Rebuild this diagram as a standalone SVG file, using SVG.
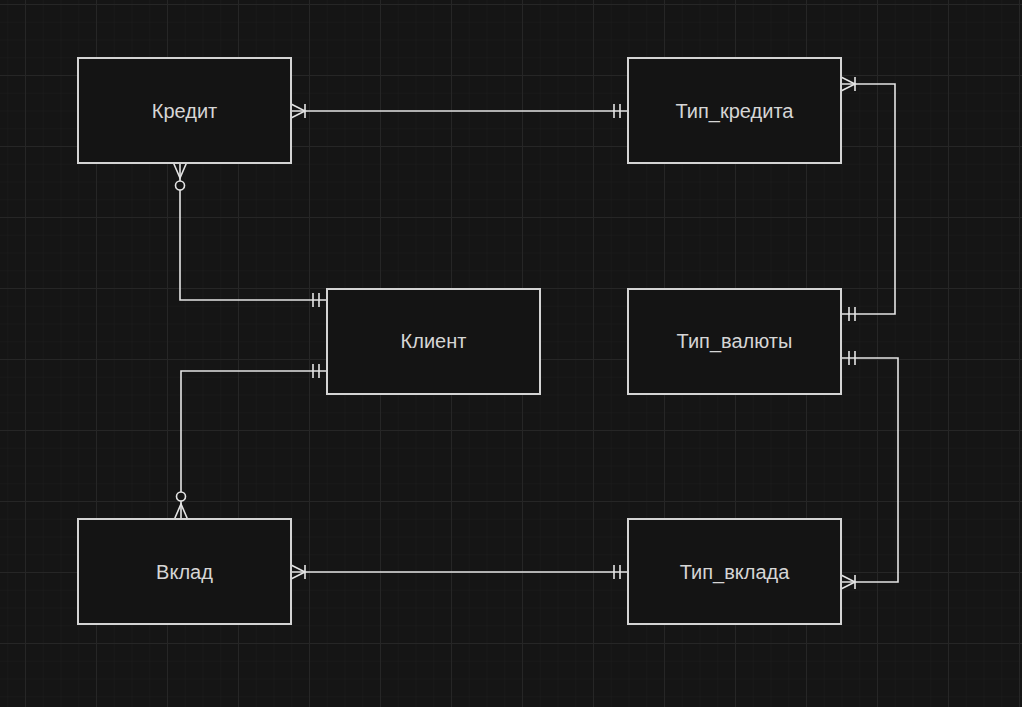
<svg xmlns="http://www.w3.org/2000/svg" width="1022" height="707" viewBox="0 0 1022 707">
<style>
.box{fill:#141414;stroke:#d4d4d4;stroke-width:2}
.lbl{font-family:"Liberation Sans",Arial,sans-serif;font-size:20px;fill:#d6d6d6;text-anchor:middle;dominant-baseline:central}
.con{fill:none;stroke:#e4e4e4;stroke-width:1.6}
.mk{fill:none;stroke:#e4e4e4;stroke-width:1.6}
</style>
<defs>
<pattern id="minor" width="17.75" height="17.75" patternUnits="userSpaceOnUse" x="25" y="4">
<path d="M0,0 L17.75,0 M0,0 L0,17.75" fill="none" stroke="#1d1d1d" stroke-width="1"/>
</pattern>
<pattern id="major" width="71" height="71" patternUnits="userSpaceOnUse" x="25" y="4">
<path d="M0,0.5 L71,0.5 M0.5,0 L0.5,71" fill="none" stroke="#262626" stroke-width="1"/>
</pattern>
<marker id="mandOne" markerUnits="userSpaceOnUse" viewBox="-30 -12 32 24" refX="0" refY="0" markerWidth="32" markerHeight="24" orient="auto-start-reverse" overflow="visible">
<path class="mk" d="M-8,-7 L-8,7 M-14,-7 L-14,7"/>
</marker>
<marker id="oneMany" markerUnits="userSpaceOnUse" viewBox="-30 -12 32 24" refX="0" refY="0" markerWidth="32" markerHeight="24" orient="auto-start-reverse" overflow="visible">
<path class="mk" d="M0,-7 L-14,0 L0,7 M-14,-7 L-14,7"/>
</marker>
<marker id="zeroMany" markerUnits="userSpaceOnUse" viewBox="-30 -12 32 24" refX="0" refY="0" markerWidth="32" markerHeight="24" orient="auto-start-reverse" overflow="visible">
<path class="mk" d="M0,-6.5 L-15,0 L0,6.5"/>
<circle class="mk" cx="-22.5" cy="0" r="4.5" style="fill:#151515"/>
</marker>
</defs>
<rect width="1022" height="707" fill="#151515"/>
<rect width="1022" height="707" fill="url(#minor)"/>
<rect width="1022" height="707" fill="url(#major)"/>
<g id="connectors">
<path class="con" d="M291,111 L628,111" marker-start="url(#oneMany)" marker-end="url(#mandOne)"/>
<path class="con" d="M841,84 L895,84 L895,314 L841,314" marker-start="url(#oneMany)" marker-end="url(#mandOne)"/>
<path class="con" d="M841,358 L898,358 L898,582 L841,582" marker-start="url(#mandOne)" marker-end="url(#oneMany)"/>
<path class="con" d="M180,163 L180,300 L327,300" marker-start="url(#zeroMany)" marker-end="url(#mandOne)"/>
<path class="con" d="M327,371 L181,371 L181,519" marker-start="url(#mandOne)" marker-end="url(#zeroMany)"/>
<path class="con" d="M291,572 L628,572" marker-start="url(#oneMany)" marker-end="url(#mandOne)"/>
</g>
<g id="credit"><rect class="box" x="78" y="58" width="213" height="105"/><text class="lbl" x="184.5" y="111">Кредит</text></g>
<g id="credit_type"><rect class="box" x="628" y="58" width="213" height="105"/><text class="lbl" x="734.5" y="111">Тип_кредита</text></g>
<g id="client"><rect class="box" x="327" y="289" width="213" height="105"/><text class="lbl" x="433.5" y="341">Клиент</text></g>
<g id="currency_type"><rect class="box" x="628" y="289" width="213" height="105"/><text class="lbl" x="734.5" y="341">Тип_валюты</text></g>
<g id="deposit"><rect class="box" x="78" y="519" width="213" height="105"/><text class="lbl" x="184.5" y="572">Вклад</text></g>
<g id="deposit_type"><rect class="box" x="628" y="519" width="213" height="105"/><text class="lbl" x="734.5" y="572">Тип_вклада</text></g>
</svg>
